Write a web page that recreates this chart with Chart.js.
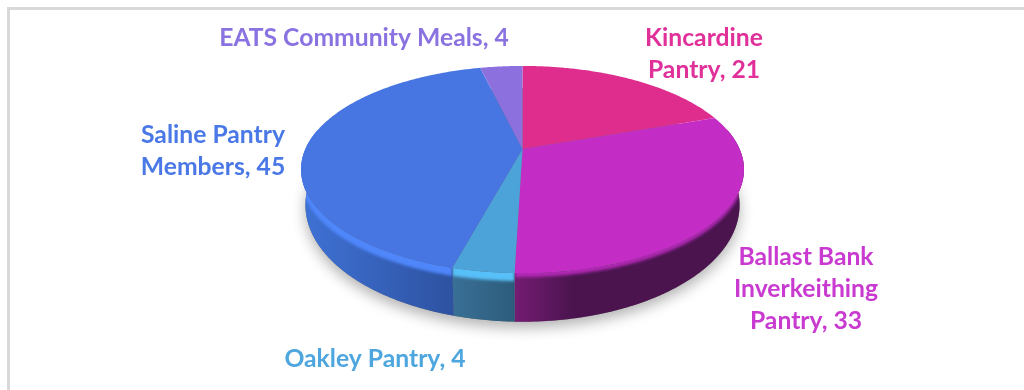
<!DOCTYPE html>
<html>
<head>
<meta charset="utf-8">
<title>Pantry members</title>
<script src="https://cdn.jsdelivr.net/npm/chart.js@4"></script>
<style>
  html, body { margin: 0; padding: 0; background: #fff; }
  #wrap { position: relative; width: 1024px; height: 390px; overflow: hidden; }
  #frame { position: absolute; left: 7px; top: 7px; width: 1040px; height: 400px; border: 3px solid #d9d9d9; box-sizing: border-box; }
  canvas { position: absolute; left: 0; top: 0; }
</style>
</head>
<body>
<div id="wrap">
  <div id="frame"></div>
  <canvas id="chart" width="1024" height="390"></canvas>
</div>
<script>
const categoryLines = [
  ['Kincardine', 'Pantry'],
  ['Ballast Bank', 'Inverkeithing', 'Pantry'],
  ['Oakley Pantry'],
  ['Saline Pantry', 'Members'],
  ['EATS Community Meals']
];
const members = [21, 33, 4, 45, 4];

const topColors = ['#df2d8d', '#c42cc6', '#4ca3da', '#4775e2', '#8c70de'];
const textColors = ['#e0309a', '#c93bd0', '#4ea6de', '#4a78e6', '#8a72e0'];
const rimColors = ['#df2d8d', '#b028b4', '#58c0f8', '#4f87fb', '#8c70de'];
const rimDepth = [0, 4, 8, 8, 0];
const sideLeft = ['#7a1650', '#751c73', '#3a7096', '#3f72d6', '#5a48a0'];
const sideRight = ['#7a1650', '#4b144f', '#2c5c7c', '#2d52a0', '#5a48a0'];
const sideFade = [1, 0.25, 1, 1, 1];

// where each label sits: centre x, first baseline y
const labelSpots = [[704, 46], [806, 265], [375, 367], [213, 143], [364, 46]];
const lineHeight = 32;
const labelFont = 'bold 24.7px Lato, sans-serif';

// view of the tilted disc: the upper face and the lower edge are seen at slightly different angles
const tilt = 0.198;
const upperFace = { stretchX: 1.457, stretchY: 0.668, drop: 0 };
const lowerEdge = { stretchX: 1.428, stretchY: 0.752, drop: 33 };

function project(el, angle, view, extraDrop) {
  const x = Math.cos(angle), y = Math.sin(angle);
  const w = 1 - tilt * y;
  const r = el.outerRadius;
  return [el.x + r * view.stretchX * x / w, el.y + view.drop + extraDrop + r * view.stretchY * y / w];
}

function arcPoints(el, from, to, view, extraDrop = 0) {
  const steps = Math.max(2, Math.ceil((to - from) / 0.01));
  const pts = [];
  for (let i = 0; i <= steps; i++) {
    pts.push(project(el, from + (to - from) * i / steps, view, extraDrop));
  }
  return pts;
}

function tracePoints(ctx, pts, start) {
  pts.forEach((p, i) => {
    if (i === 0 && start) ctx.moveTo(p[0], p[1]);
    else ctx.lineTo(p[0], p[1]);
  });
}

const discPlugin = {
  id: 'disc',
  beforeDatasetDraw(chart, args) {
    const ctx = chart.ctx;
    const slices = chart.getDatasetMeta(args.index).data;

    // soft shadow under the whole base
    ctx.save();
    ctx.shadowColor = 'rgba(0,0,0,0.3)';
    ctx.shadowBlur = 14;
    ctx.shadowOffsetX = 0;
    ctx.shadowOffsetY = 6;
    ctx.fillStyle = '#777';
    ctx.beginPath();
    tracePoints(ctx, arcPoints(slices[0], 0, Math.PI * 2, lowerEdge), true);
    ctx.closePath();
    ctx.fill();
    ctx.restore();

    // side wall and its bright bevel, only where a slice faces the viewer
    slices.forEach((el, i) => {
      const a = Math.max(el.startAngle, -0.2), b = Math.min(el.endAngle, Math.PI + 0.2);
      if (b <= a) return;
      const upper = arcPoints(el, a, b, upperFace);
      const lower = arcPoints(el, a, b, lowerEdge).reverse();
      const xs = upper.concat(lower).map(p => p[0]);
      const grad = ctx.createLinearGradient(Math.min(...xs), 0, Math.max(...xs), 0);
      grad.addColorStop(0, sideLeft[i]);
      grad.addColorStop(sideFade[i], sideRight[i]);

      ctx.save();
      ctx.beginPath();
      tracePoints(ctx, upper, true);
      tracePoints(ctx, lower, false);
      ctx.closePath();
      ctx.fillStyle = grad;
      ctx.fill();
      ctx.clip();

      ctx.filter = 'blur(1.5px)';
      ctx.fillStyle = rimColors[i];
      ctx.beginPath();
      tracePoints(ctx, arcPoints(el, a, b, upperFace, -4), true);
      tracePoints(ctx, arcPoints(el, a, b, upperFace, rimDepth[i]).reverse(), false);
      ctx.closePath();
      ctx.fill();
      ctx.restore();
    });

    // top face, with the centre pushed back by the view
    slices.forEach((el, i) => {
      ctx.fillStyle = topColors[i];
      ctx.beginPath();
      ctx.moveTo(el.x, el.y);
      tracePoints(ctx, arcPoints(el, el.startAngle, el.endAngle, upperFace), false);
      ctx.closePath();
      ctx.fill();
    });

    return false;
  },
  afterDatasetsDraw(chart) {
    const ctx = chart.ctx;
    ctx.save();
    ctx.font = labelFont;
    ctx.textAlign = 'center';
    categoryLines.forEach((lines, i) => {
      ctx.fillStyle = textColors[i];
      lines.forEach((line, j) => {
        const text = j === lines.length - 1 ? line + ', ' + members[i] : line;
        ctx.fillText(text, labelSpots[i][0], labelSpots[i][1] + j * lineHeight);
      });
    });
    ctx.restore();
  }
};

new Chart(document.getElementById('chart'), {
  type: 'pie',
  data: {
    labels: categoryLines.map(l => l.join(' ')),
    datasets: [{ data: members, backgroundColor: topColors, borderWidth: 0 }]
  },
  options: {
    responsive: false,
    animation: false,
    layout: { padding: { left: 21, right: 0, top: 0, bottom: 92 } },
    plugins: { legend: { display: false }, tooltip: { enabled: false } }
  },
  plugins: [discPlugin]
});
</script>
</body>
</html>
